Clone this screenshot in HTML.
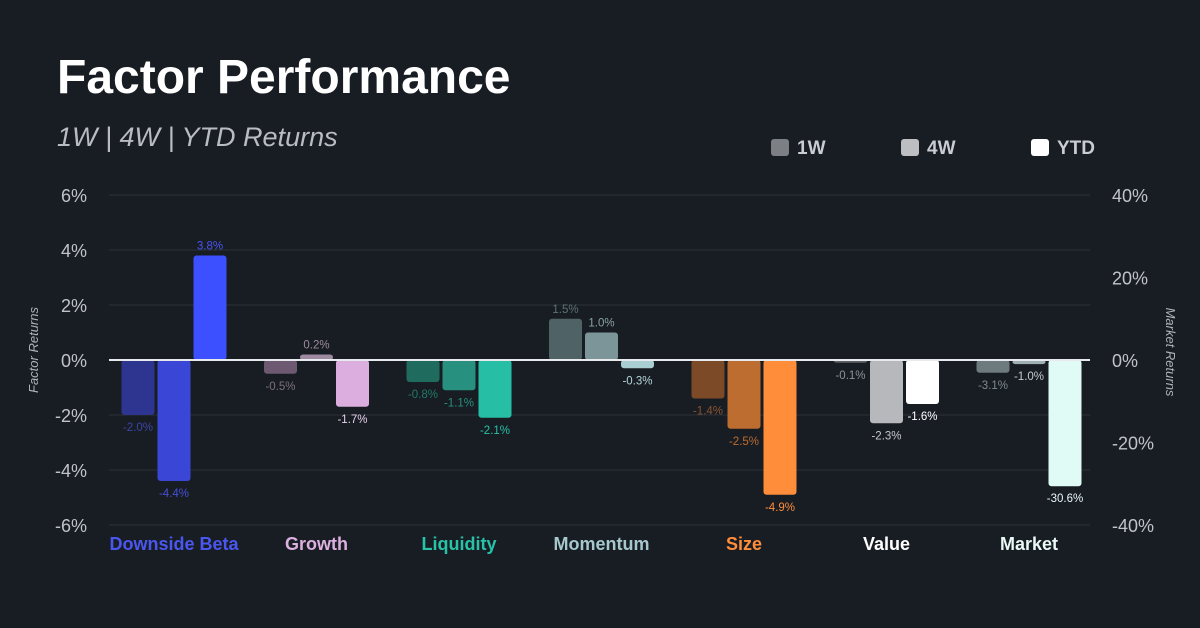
<!DOCTYPE html>
<html><head><meta charset="utf-8"><style>
body{margin:0;background:#181c23;}
svg{display:block;font-family:"Liberation Sans",sans-serif;}
</style></head><body>
<svg id="c" width="1200" height="628" viewBox="0 0 1200 628">
<rect width="1200" height="628" fill="#181c23"/>
<text x="57" y="93" fill="#ffffff" font-size="48" font-weight="bold">Factor Performance</text>
<text x="57" y="146" fill="#b9bcc3" font-size="27" font-style="italic">1W | 4W | YTD Returns</text>
<g>
<rect x="771" y="139" width="18" height="17" rx="3" fill="#7c7f84"/>
<text x="797" y="154" fill="#c9ccd3" font-size="19" font-weight="bold">1W</text>
<rect x="901" y="139" width="18" height="17" rx="3" fill="#bdbec2"/>
<text x="927" y="154" fill="#c9ccd3" font-size="19" font-weight="bold">4W</text>
<rect x="1031" y="139" width="18" height="17" rx="3" fill="#ffffff"/>
<text x="1057" y="154" fill="#c9ccd3" font-size="19" font-weight="bold">YTD</text>
</g>
<text transform="translate(38,350) rotate(-90)" text-anchor="middle" fill="#aeb2ba" font-size="13" font-style="italic">Factor Returns</text>
<text transform="translate(1166,352) rotate(90)" text-anchor="middle" fill="#aeb2ba" font-size="13" font-style="italic">Market Returns</text>
<g id="grid"></g><g id="bars"></g><g id="labels"></g>
</svg>
<script>
const categories=["Downside Beta","Growth","Liquidity","Momentum","Size","Value","Market"];
const w1=[-2.0,-0.5,-0.8,1.5,-1.4,-0.1,-3.1];
const w4=[-4.4,0.2,-1.1,1.0,-2.5,-2.3,-1.0];
const ytd=[3.8,-1.7,-2.1,-0.3,-4.9,-1.6,-30.6];
const leftTicks=[6,4,2,0,-2,-4,-6];
const rightTicks=[40,20,0,-20,-40];
const colors=[["#2e3590","#3a47d6","#3d50ff"],["#6d5a72","#9e8aa0","#dcaee0"],["#1f6b5e","#27907e","#26bfa5"],["#4f6266","#7c9599","#a9cfd3"],["#7d4a28","#bd6d30","#ff8d3a"],["#5f6368","#b7b8bc","#ffffff"],["#6d7b7f","#9fb0b3","#e0fbf6"]];
const labelColors=[["#3a45a8","#4450d8","#4a56f0"],["#7d6f80","#9e8aa0","#e6d0ea"],["#1f7a6a","#27907e","#27c2a8"],["#5e7276","#8aa3a7","#b5d5d8"],["#8a5530","#bd6d30","#ff8d3a"],["#8e9298","#c5c7cb","#ffffff"],["#7d8b8f","#c0ccce","#e8f8f5"]];
const catColors=["#4a56f0","#dcb0e0","#27c2a8","#a5c8cc","#ff8d3a","#ffffff","#e8f8f5"];
const NS="http://www.w3.org/2000/svg";
const y0=360,yTop=195,yBot=525;
const yL=v=>y0-(v/6)*(y0-yTop);
const yR=v=>y0-(v/40)*(y0-yTop);
const xC=i=>174+i*142.5;
function mk(t,a,p){const e=document.createElementNS(NS,t);for(const k in a)e.setAttribute(k,a[k]);p.appendChild(e);return e;}
const grid=document.getElementById('grid'),bars=document.getElementById('bars'),labels=document.getElementById('labels');
leftTicks.forEach(v=>{
 const l=mk('line',{x1:109,x2:1090,y1:yL(v),y2:yL(v),stroke:'#262b33','stroke-width':1.5},grid);
 
 
 const t=mk('text',{x:87,y:yL(v)+7,'text-anchor':'end',fill:'#c0c3ca','font-size':18},grid);
 t.textContent=v+'%';
 
 
});
rightTicks.forEach(v=>{
 const t=mk('text',{x:1112,y:yR(v)+7,fill:'#c0c3ca','font-size':18},grid);
 t.textContent=v+'%';
 
 
});
const series=[w1,w4,ytd];
categories.forEach((c,i)=>{
 const isMarket=c==="Market";
 const ys=isMarket?yR:yL;
 series.forEach((s,j)=>{
  const v=s[i];
  const cx=xC(i)+(j-1)*36;
  const y=ys(v);
  const top=Math.min(y,y0),h=Math.max(Math.abs(y-y0),2);
  const r=mk('rect',{x:cx-16.5,y:top,width:33,height:h,rx:3,fill:colors[i][j]},bars);
  
  
  const ly=v>=0?top-6:top+h+16;
  const t=mk('text',{x:cx,y:ly,'text-anchor':'middle',fill:labelColors[i][j],'font-size':11.5},labels);
  t.textContent=v.toFixed(1)+'%';
  
  
 });
 const t=mk('text',{x:xC(i),y:550,'text-anchor':'middle',fill:catColors[i],'font-size':18,'font-weight':'bold'},labels);
 t.textContent=c;
 
 
});
const z=mk('line',{x1:109,x2:1090,y1:y0,y2:y0,stroke:'#e8eaee','stroke-width':2},labels);


</script>
</body></html>
